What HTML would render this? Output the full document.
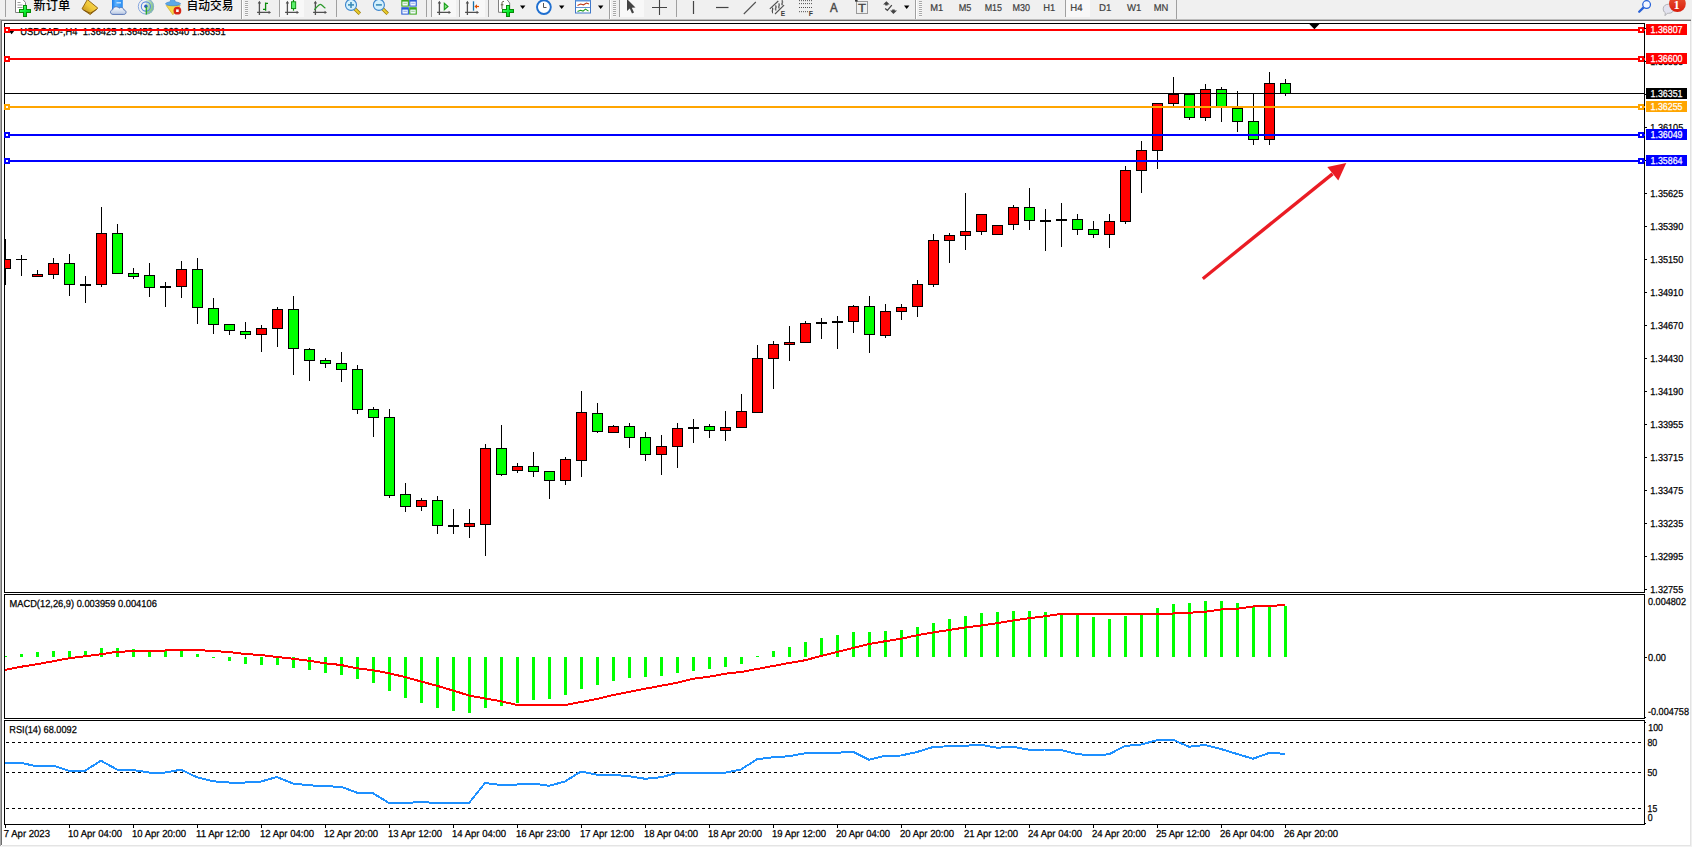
<!DOCTYPE html>
<html lang="zh"><head><meta charset="utf-8"><title>USDCAD-,H4</title>
<style>
html,body{margin:0;padding:0;background:#fff;overflow:hidden}
svg{display:block}
text{font-family:"Liberation Sans","Noto Sans CJK SC",sans-serif}
</style></head><body>
<svg width="1692" height="847" viewBox="0 0 1692 847"><rect x="0" y="0" width="1692" height="847" fill="#ffffff"/>
<rect x="0" y="0" width="1692" height="19" fill="#f0f0f0"/>
<rect x="0" y="19" width="1691" height="1" fill="#bcbcbc"/>
<rect x="0" y="20" width="1691" height="1" fill="#6e6e6e"/>
<rect x="0" y="19" width="1" height="828" fill="#a8a8a8"/>
<rect x="1" y="20" width="1" height="825" fill="#6e6e6e"/>
<rect x="1690" y="21" width="1" height="826" fill="#e3e3e3"/>
<rect x="1691" y="0" width="1" height="847" fill="#f0f0f0"/>
<rect x="2" y="845" width="1689" height="1" fill="#e4e4e4"/>
<rect x="0" y="846" width="1692" height="1" fill="#f2f2f2"/>
<rect x="4" y="23" width="1641" height="1" fill="#000"/>
<rect x="4" y="23" width="1" height="570" fill="#000"/>
<rect x="1644" y="23" width="1" height="570" fill="#000"/>
<rect x="4" y="592" width="1641" height="1" fill="#000"/>
<rect x="4" y="594" width="1641" height="1" fill="#000"/>
<rect x="4" y="594" width="1" height="125" fill="#000"/>
<rect x="1644" y="594" width="1" height="125" fill="#000"/>
<rect x="4" y="718" width="1641" height="1" fill="#000"/>
<rect x="4" y="720" width="1641" height="1" fill="#000"/>
<rect x="4" y="720" width="1" height="105" fill="#000"/>
<rect x="1644" y="720" width="1" height="105" fill="#000"/>
<rect x="4" y="824" width="1641" height="1" fill="#000"/>
<g font-family="'Liberation Sans', sans-serif" style="text-rendering:geometricPrecision" stroke-width="0.25">
<path d="M7.5 29H15.7L11.6 34.3Z" fill="#000"/>
<text x="20.3" y="35" font-size="10.17" fill="#000" stroke="#000" textLength="205.3" lengthAdjust="spacingAndGlyphs" xml:space="preserve">USDCAD-,H4  1.36425 1.36452 1.36340 1.36351</text>
<rect x="1645" y="28" width="2" height="1" fill="#000"/>
<text x="1650.3" y="32" font-size="10.17" fill="#000" stroke="#000" textLength="32.9" lengthAdjust="spacingAndGlyphs" xml:space="preserve">1.36825</text>
<rect x="1645" y="61" width="2" height="1" fill="#000"/>
<text x="1650.3" y="65" font-size="10.17" fill="#000" stroke="#000" textLength="32.9" lengthAdjust="spacingAndGlyphs" xml:space="preserve">1.36585</text>
<rect x="1645" y="94" width="2" height="1" fill="#000"/>
<text x="1650.3" y="98" font-size="10.17" fill="#000" stroke="#000" textLength="32.9" lengthAdjust="spacingAndGlyphs" xml:space="preserve">1.36345</text>
<rect x="1645" y="127" width="2" height="1" fill="#000"/>
<text x="1650.3" y="131" font-size="10.17" fill="#000" stroke="#000" textLength="32.9" lengthAdjust="spacingAndGlyphs" xml:space="preserve">1.36105</text>
<rect x="1645" y="160" width="2" height="1" fill="#000"/>
<text x="1650.3" y="164" font-size="10.17" fill="#000" stroke="#000" textLength="32.9" lengthAdjust="spacingAndGlyphs" xml:space="preserve">1.35865</text>
<rect x="1645" y="193" width="2" height="1" fill="#000"/>
<text x="1650.3" y="197" font-size="10.17" fill="#000" stroke="#000" textLength="32.9" lengthAdjust="spacingAndGlyphs" xml:space="preserve">1.35625</text>
<rect x="1645" y="226" width="2" height="1" fill="#000"/>
<text x="1650.3" y="230" font-size="10.17" fill="#000" stroke="#000" textLength="32.9" lengthAdjust="spacingAndGlyphs" xml:space="preserve">1.35390</text>
<rect x="1645" y="259" width="2" height="1" fill="#000"/>
<text x="1650.3" y="263" font-size="10.17" fill="#000" stroke="#000" textLength="32.9" lengthAdjust="spacingAndGlyphs" xml:space="preserve">1.35150</text>
<rect x="1645" y="292" width="2" height="1" fill="#000"/>
<text x="1650.3" y="296" font-size="10.17" fill="#000" stroke="#000" textLength="32.9" lengthAdjust="spacingAndGlyphs" xml:space="preserve">1.34910</text>
<rect x="1645" y="325" width="2" height="1" fill="#000"/>
<text x="1650.3" y="329" font-size="10.17" fill="#000" stroke="#000" textLength="32.9" lengthAdjust="spacingAndGlyphs" xml:space="preserve">1.34670</text>
<rect x="1645" y="358" width="2" height="1" fill="#000"/>
<text x="1650.3" y="362" font-size="10.17" fill="#000" stroke="#000" textLength="32.9" lengthAdjust="spacingAndGlyphs" xml:space="preserve">1.34430</text>
<rect x="1645" y="391" width="2" height="1" fill="#000"/>
<text x="1650.3" y="395" font-size="10.17" fill="#000" stroke="#000" textLength="32.9" lengthAdjust="spacingAndGlyphs" xml:space="preserve">1.34190</text>
<rect x="1645" y="424" width="2" height="1" fill="#000"/>
<text x="1650.3" y="428" font-size="10.17" fill="#000" stroke="#000" textLength="32.9" lengthAdjust="spacingAndGlyphs" xml:space="preserve">1.33955</text>
<rect x="1645" y="457" width="2" height="1" fill="#000"/>
<text x="1650.3" y="461" font-size="10.17" fill="#000" stroke="#000" textLength="32.9" lengthAdjust="spacingAndGlyphs" xml:space="preserve">1.33715</text>
<rect x="1645" y="490" width="2" height="1" fill="#000"/>
<text x="1650.3" y="494" font-size="10.17" fill="#000" stroke="#000" textLength="32.9" lengthAdjust="spacingAndGlyphs" xml:space="preserve">1.33475</text>
<rect x="1645" y="523" width="2" height="1" fill="#000"/>
<text x="1650.3" y="527" font-size="10.17" fill="#000" stroke="#000" textLength="32.9" lengthAdjust="spacingAndGlyphs" xml:space="preserve">1.33235</text>
<rect x="1645" y="556" width="2" height="1" fill="#000"/>
<text x="1650.3" y="560" font-size="10.17" fill="#000" stroke="#000" textLength="32.9" lengthAdjust="spacingAndGlyphs" xml:space="preserve">1.32995</text>
<rect x="1645" y="589" width="2" height="1" fill="#000"/>
<text x="1650.3" y="593" font-size="10.17" fill="#000" stroke="#000" textLength="32.9" lengthAdjust="spacingAndGlyphs" xml:space="preserve">1.32755</text>
<g shape-rendering="crispEdges">
<rect x="5" y="239" width="1" height="46" fill="#000"/>
<rect x="5" y="259" width="6" height="10" fill="#000"/>
<rect x="5" y="260" width="5" height="8" fill="#ff0000"/>
<rect x="21" y="255" width="1" height="21" fill="#000"/>
<rect x="16" y="259" width="11" height="1" fill="#000"/>
<rect x="37" y="270" width="1" height="7" fill="#000"/>
<rect x="32" y="274" width="11" height="3" fill="#000"/>
<rect x="33" y="275" width="9" height="1" fill="#ff0000"/>
<rect x="53" y="258" width="1" height="21" fill="#000"/>
<rect x="48" y="263" width="11" height="12" fill="#000"/>
<rect x="49" y="264" width="9" height="10" fill="#ff0000"/>
<rect x="69" y="254" width="1" height="42" fill="#000"/>
<rect x="64" y="263" width="11" height="22" fill="#000"/>
<rect x="65" y="264" width="9" height="20" fill="#00ff00"/>
<rect x="85" y="276" width="1" height="27" fill="#000"/>
<rect x="80" y="284" width="11" height="2" fill="#000"/>
<rect x="101" y="207" width="1" height="80" fill="#000"/>
<rect x="96" y="233" width="11" height="52" fill="#000"/>
<rect x="97" y="234" width="9" height="50" fill="#ff0000"/>
<rect x="117" y="224" width="1" height="50" fill="#000"/>
<rect x="112" y="233" width="11" height="41" fill="#000"/>
<rect x="113" y="234" width="9" height="39" fill="#00ff00"/>
<rect x="133" y="268" width="1" height="11" fill="#000"/>
<rect x="128" y="273" width="11" height="4" fill="#000"/>
<rect x="129" y="274" width="9" height="2" fill="#00ff00"/>
<rect x="149" y="263" width="1" height="34" fill="#000"/>
<rect x="144" y="275" width="11" height="13" fill="#000"/>
<rect x="145" y="276" width="9" height="11" fill="#00ff00"/>
<rect x="165" y="282" width="1" height="25" fill="#000"/>
<rect x="160" y="286" width="11" height="2" fill="#000"/>
<rect x="181" y="261" width="1" height="37" fill="#000"/>
<rect x="176" y="269" width="11" height="18" fill="#000"/>
<rect x="177" y="270" width="9" height="16" fill="#ff0000"/>
<rect x="197" y="258" width="1" height="66" fill="#000"/>
<rect x="192" y="269" width="11" height="39" fill="#000"/>
<rect x="193" y="270" width="9" height="37" fill="#00ff00"/>
<rect x="213" y="298" width="1" height="36" fill="#000"/>
<rect x="208" y="308" width="11" height="17" fill="#000"/>
<rect x="209" y="309" width="9" height="15" fill="#00ff00"/>
<rect x="229" y="324" width="1" height="11" fill="#000"/>
<rect x="224" y="324" width="11" height="7" fill="#000"/>
<rect x="225" y="325" width="9" height="5" fill="#00ff00"/>
<rect x="245" y="322" width="1" height="17" fill="#000"/>
<rect x="240" y="331" width="11" height="4" fill="#000"/>
<rect x="241" y="332" width="9" height="2" fill="#00ff00"/>
<rect x="261" y="325" width="1" height="27" fill="#000"/>
<rect x="256" y="328" width="11" height="7" fill="#000"/>
<rect x="257" y="329" width="9" height="5" fill="#ff0000"/>
<rect x="277" y="307" width="1" height="40" fill="#000"/>
<rect x="272" y="309" width="11" height="20" fill="#000"/>
<rect x="273" y="310" width="9" height="18" fill="#ff0000"/>
<rect x="293" y="296" width="1" height="79" fill="#000"/>
<rect x="288" y="309" width="11" height="40" fill="#000"/>
<rect x="289" y="310" width="9" height="38" fill="#00ff00"/>
<rect x="309" y="348" width="1" height="33" fill="#000"/>
<rect x="304" y="349" width="11" height="12" fill="#000"/>
<rect x="305" y="350" width="9" height="10" fill="#00ff00"/>
<rect x="325" y="358" width="1" height="10" fill="#000"/>
<rect x="320" y="360" width="11" height="4" fill="#000"/>
<rect x="321" y="361" width="9" height="2" fill="#00ff00"/>
<rect x="341" y="352" width="1" height="30" fill="#000"/>
<rect x="336" y="363" width="11" height="7" fill="#000"/>
<rect x="337" y="364" width="9" height="5" fill="#00ff00"/>
<rect x="357" y="365" width="1" height="49" fill="#000"/>
<rect x="352" y="369" width="11" height="41" fill="#000"/>
<rect x="353" y="370" width="9" height="39" fill="#00ff00"/>
<rect x="373" y="407" width="1" height="30" fill="#000"/>
<rect x="368" y="409" width="11" height="9" fill="#000"/>
<rect x="369" y="410" width="9" height="7" fill="#00ff00"/>
<rect x="389" y="409" width="1" height="89" fill="#000"/>
<rect x="384" y="417" width="11" height="79" fill="#000"/>
<rect x="385" y="418" width="9" height="77" fill="#00ff00"/>
<rect x="405" y="483" width="1" height="29" fill="#000"/>
<rect x="400" y="494" width="11" height="13" fill="#000"/>
<rect x="401" y="495" width="9" height="11" fill="#00ff00"/>
<rect x="421" y="498" width="1" height="13" fill="#000"/>
<rect x="416" y="500" width="11" height="7" fill="#000"/>
<rect x="417" y="501" width="9" height="5" fill="#ff0000"/>
<rect x="437" y="496" width="1" height="38" fill="#000"/>
<rect x="432" y="500" width="11" height="26" fill="#000"/>
<rect x="433" y="501" width="9" height="24" fill="#00ff00"/>
<rect x="453" y="509" width="1" height="25" fill="#000"/>
<rect x="448" y="525" width="11" height="2" fill="#000"/>
<rect x="469" y="509" width="1" height="29" fill="#000"/>
<rect x="464" y="523" width="11" height="4" fill="#000"/>
<rect x="465" y="524" width="9" height="2" fill="#ff0000"/>
<rect x="485" y="444" width="1" height="112" fill="#000"/>
<rect x="480" y="448" width="11" height="77" fill="#000"/>
<rect x="481" y="449" width="9" height="75" fill="#ff0000"/>
<rect x="501" y="425" width="1" height="51" fill="#000"/>
<rect x="496" y="448" width="11" height="27" fill="#000"/>
<rect x="497" y="449" width="9" height="25" fill="#00ff00"/>
<rect x="517" y="463" width="1" height="10" fill="#000"/>
<rect x="512" y="466" width="11" height="5" fill="#000"/>
<rect x="513" y="467" width="9" height="3" fill="#ff0000"/>
<rect x="533" y="452" width="1" height="25" fill="#000"/>
<rect x="528" y="466" width="11" height="6" fill="#000"/>
<rect x="529" y="467" width="9" height="4" fill="#00ff00"/>
<rect x="549" y="471" width="1" height="28" fill="#000"/>
<rect x="544" y="471" width="11" height="10" fill="#000"/>
<rect x="545" y="472" width="9" height="8" fill="#00ff00"/>
<rect x="565" y="457" width="1" height="28" fill="#000"/>
<rect x="560" y="459" width="11" height="22" fill="#000"/>
<rect x="561" y="460" width="9" height="20" fill="#ff0000"/>
<rect x="581" y="391" width="1" height="86" fill="#000"/>
<rect x="576" y="412" width="11" height="49" fill="#000"/>
<rect x="577" y="413" width="9" height="47" fill="#ff0000"/>
<rect x="597" y="403" width="1" height="30" fill="#000"/>
<rect x="592" y="413" width="11" height="19" fill="#000"/>
<rect x="593" y="414" width="9" height="17" fill="#00ff00"/>
<rect x="613" y="425" width="1" height="8" fill="#000"/>
<rect x="608" y="426" width="11" height="7" fill="#000"/>
<rect x="609" y="427" width="9" height="5" fill="#ff0000"/>
<rect x="629" y="423" width="1" height="25" fill="#000"/>
<rect x="624" y="426" width="11" height="12" fill="#000"/>
<rect x="625" y="427" width="9" height="10" fill="#00ff00"/>
<rect x="645" y="432" width="1" height="29" fill="#000"/>
<rect x="640" y="437" width="11" height="18" fill="#000"/>
<rect x="641" y="438" width="9" height="16" fill="#00ff00"/>
<rect x="661" y="435" width="1" height="40" fill="#000"/>
<rect x="656" y="446" width="11" height="9" fill="#000"/>
<rect x="657" y="447" width="9" height="7" fill="#ff0000"/>
<rect x="677" y="423" width="1" height="45" fill="#000"/>
<rect x="672" y="428" width="11" height="19" fill="#000"/>
<rect x="673" y="429" width="9" height="17" fill="#ff0000"/>
<rect x="693" y="419" width="1" height="24" fill="#000"/>
<rect x="688" y="427" width="11" height="2" fill="#000"/>
<rect x="709" y="424" width="1" height="14" fill="#000"/>
<rect x="704" y="426" width="11" height="5" fill="#000"/>
<rect x="705" y="427" width="9" height="3" fill="#00ff00"/>
<rect x="725" y="411" width="1" height="30" fill="#000"/>
<rect x="720" y="427" width="11" height="4" fill="#000"/>
<rect x="721" y="428" width="9" height="2" fill="#ff0000"/>
<rect x="741" y="394" width="1" height="34" fill="#000"/>
<rect x="736" y="411" width="11" height="17" fill="#000"/>
<rect x="737" y="412" width="9" height="15" fill="#ff0000"/>
<rect x="757" y="345" width="1" height="68" fill="#000"/>
<rect x="752" y="358" width="11" height="55" fill="#000"/>
<rect x="753" y="359" width="9" height="53" fill="#ff0000"/>
<rect x="773" y="341" width="1" height="48" fill="#000"/>
<rect x="768" y="344" width="11" height="15" fill="#000"/>
<rect x="769" y="345" width="9" height="13" fill="#ff0000"/>
<rect x="789" y="326" width="1" height="35" fill="#000"/>
<rect x="784" y="342" width="11" height="3" fill="#000"/>
<rect x="785" y="343" width="9" height="1" fill="#ff0000"/>
<rect x="805" y="321" width="1" height="22" fill="#000"/>
<rect x="800" y="323" width="11" height="20" fill="#000"/>
<rect x="801" y="324" width="9" height="18" fill="#ff0000"/>
<rect x="821" y="318" width="1" height="21" fill="#000"/>
<rect x="816" y="322" width="11" height="2" fill="#000"/>
<rect x="837" y="316" width="1" height="33" fill="#000"/>
<rect x="832" y="321" width="11" height="2" fill="#000"/>
<rect x="853" y="305" width="1" height="28" fill="#000"/>
<rect x="848" y="306" width="11" height="16" fill="#000"/>
<rect x="849" y="307" width="9" height="14" fill="#ff0000"/>
<rect x="869" y="296" width="1" height="57" fill="#000"/>
<rect x="864" y="306" width="11" height="29" fill="#000"/>
<rect x="865" y="307" width="9" height="27" fill="#00ff00"/>
<rect x="885" y="304" width="1" height="34" fill="#000"/>
<rect x="880" y="311" width="11" height="25" fill="#000"/>
<rect x="881" y="312" width="9" height="23" fill="#ff0000"/>
<rect x="901" y="304" width="1" height="16" fill="#000"/>
<rect x="896" y="307" width="11" height="5" fill="#000"/>
<rect x="897" y="308" width="9" height="3" fill="#ff0000"/>
<rect x="917" y="280" width="1" height="37" fill="#000"/>
<rect x="912" y="284" width="11" height="23" fill="#000"/>
<rect x="913" y="285" width="9" height="21" fill="#ff0000"/>
<rect x="933" y="234" width="1" height="53" fill="#000"/>
<rect x="928" y="240" width="11" height="45" fill="#000"/>
<rect x="929" y="241" width="9" height="43" fill="#ff0000"/>
<rect x="949" y="233" width="1" height="30" fill="#000"/>
<rect x="944" y="235" width="11" height="6" fill="#000"/>
<rect x="945" y="236" width="9" height="4" fill="#ff0000"/>
<rect x="965" y="193" width="1" height="57" fill="#000"/>
<rect x="960" y="231" width="11" height="5" fill="#000"/>
<rect x="961" y="232" width="9" height="3" fill="#ff0000"/>
<rect x="981" y="214" width="1" height="21" fill="#000"/>
<rect x="976" y="214" width="11" height="18" fill="#000"/>
<rect x="977" y="215" width="9" height="16" fill="#ff0000"/>
<rect x="997" y="225" width="1" height="10" fill="#000"/>
<rect x="992" y="225" width="11" height="10" fill="#000"/>
<rect x="993" y="226" width="9" height="8" fill="#ff0000"/>
<rect x="1013" y="205" width="1" height="25" fill="#000"/>
<rect x="1008" y="207" width="11" height="18" fill="#000"/>
<rect x="1009" y="208" width="9" height="16" fill="#ff0000"/>
<rect x="1029" y="188" width="1" height="42" fill="#000"/>
<rect x="1024" y="207" width="11" height="14" fill="#000"/>
<rect x="1025" y="208" width="9" height="12" fill="#00ff00"/>
<rect x="1045" y="209" width="1" height="42" fill="#000"/>
<rect x="1040" y="220" width="11" height="2" fill="#000"/>
<rect x="1061" y="203" width="1" height="44" fill="#000"/>
<rect x="1056" y="219" width="11" height="2" fill="#000"/>
<rect x="1077" y="214" width="1" height="21" fill="#000"/>
<rect x="1072" y="219" width="11" height="11" fill="#000"/>
<rect x="1073" y="220" width="9" height="9" fill="#00ff00"/>
<rect x="1093" y="221" width="1" height="17" fill="#000"/>
<rect x="1088" y="229" width="11" height="6" fill="#000"/>
<rect x="1089" y="230" width="9" height="4" fill="#00ff00"/>
<rect x="1109" y="214" width="1" height="34" fill="#000"/>
<rect x="1104" y="221" width="11" height="14" fill="#000"/>
<rect x="1105" y="222" width="9" height="12" fill="#ff0000"/>
<rect x="1125" y="166" width="1" height="58" fill="#000"/>
<rect x="1120" y="170" width="11" height="52" fill="#000"/>
<rect x="1121" y="171" width="9" height="50" fill="#ff0000"/>
<rect x="1141" y="141" width="1" height="52" fill="#000"/>
<rect x="1136" y="150" width="11" height="21" fill="#000"/>
<rect x="1137" y="151" width="9" height="19" fill="#ff0000"/>
<rect x="1157" y="103" width="1" height="66" fill="#000"/>
<rect x="1152" y="103" width="11" height="48" fill="#000"/>
<rect x="1153" y="104" width="9" height="46" fill="#ff0000"/>
<rect x="1173" y="77" width="1" height="29" fill="#000"/>
<rect x="1168" y="94" width="11" height="10" fill="#000"/>
<rect x="1169" y="95" width="9" height="8" fill="#ff0000"/>
<rect x="1189" y="94" width="1" height="26" fill="#000"/>
<rect x="1184" y="94" width="11" height="24" fill="#000"/>
<rect x="1185" y="95" width="9" height="22" fill="#00ff00"/>
<rect x="1205" y="84" width="1" height="37" fill="#000"/>
<rect x="1200" y="89" width="11" height="29" fill="#000"/>
<rect x="1201" y="90" width="9" height="27" fill="#ff0000"/>
<rect x="1221" y="87" width="1" height="35" fill="#000"/>
<rect x="1216" y="89" width="11" height="18" fill="#000"/>
<rect x="1217" y="90" width="9" height="16" fill="#00ff00"/>
<rect x="1237" y="91" width="1" height="41" fill="#000"/>
<rect x="1232" y="108" width="11" height="14" fill="#000"/>
<rect x="1233" y="109" width="9" height="12" fill="#00ff00"/>
<rect x="1253" y="93" width="1" height="52" fill="#000"/>
<rect x="1248" y="121" width="11" height="19" fill="#000"/>
<rect x="1249" y="122" width="9" height="17" fill="#00ff00"/>
<rect x="1269" y="72" width="1" height="73" fill="#000"/>
<rect x="1264" y="83" width="11" height="57" fill="#000"/>
<rect x="1265" y="84" width="9" height="55" fill="#ff0000"/>
<rect x="1285" y="79" width="1" height="17" fill="#000"/>
<rect x="1280" y="83" width="11" height="11" fill="#000"/>
<rect x="1281" y="84" width="9" height="9" fill="#00ff00"/>
</g>
<rect x="4" y="23" width="1" height="570" fill="#000"/>
<rect x="5" y="93" width="1640" height="1" fill="#000"/>
<rect x="1646" y="88" width="41" height="11" fill="#000"/>
<text x="1650.5" y="97" font-size="10.17" fill="#fff" stroke="#fff" textLength="32" lengthAdjust="spacingAndGlyphs" xml:space="preserve">1.36351</text>
<rect x="5" y="29" width="1640" height="2" fill="#ff0000"/>
<rect x="4" y="27" width="6" height="6" fill="#ff0000"/>
<rect x="6" y="29" width="2" height="2" fill="#fff"/>
<rect x="1638" y="27" width="6" height="6" fill="#ff0000"/>
<rect x="1640" y="29" width="2" height="2" fill="#fff"/>
<rect x="1646" y="24" width="41" height="11" fill="#ff0000"/>
<text x="1650.5" y="33" font-size="10.17" fill="#fff" stroke="#fff" textLength="32" lengthAdjust="spacingAndGlyphs" xml:space="preserve">1.36807</text>
<rect x="5" y="58" width="1640" height="2" fill="#ff0000"/>
<rect x="4" y="56" width="6" height="6" fill="#ff0000"/>
<rect x="6" y="58" width="2" height="2" fill="#fff"/>
<rect x="1638" y="56" width="6" height="6" fill="#ff0000"/>
<rect x="1640" y="58" width="2" height="2" fill="#fff"/>
<rect x="1646" y="53" width="41" height="11" fill="#ff0000"/>
<text x="1650.5" y="62" font-size="10.17" fill="#fff" stroke="#fff" textLength="32" lengthAdjust="spacingAndGlyphs" xml:space="preserve">1.36600</text>
<rect x="5" y="106" width="1640" height="2" fill="#ffa500"/>
<rect x="4" y="104" width="6" height="6" fill="#ffa500"/>
<rect x="6" y="106" width="2" height="2" fill="#fff"/>
<rect x="1638" y="104" width="6" height="6" fill="#ffa500"/>
<rect x="1640" y="106" width="2" height="2" fill="#fff"/>
<rect x="1646" y="101" width="41" height="11" fill="#ffa500"/>
<text x="1650.5" y="110" font-size="10.17" fill="#fff" stroke="#fff" textLength="32" lengthAdjust="spacingAndGlyphs" xml:space="preserve">1.36255</text>
<rect x="5" y="134" width="1640" height="2" fill="#0000ff"/>
<rect x="4" y="132" width="6" height="6" fill="#0000ff"/>
<rect x="6" y="134" width="2" height="2" fill="#fff"/>
<rect x="1638" y="132" width="6" height="6" fill="#0000ff"/>
<rect x="1640" y="134" width="2" height="2" fill="#fff"/>
<rect x="1646" y="129" width="41" height="11" fill="#0000ff"/>
<text x="1650.5" y="138" font-size="10.17" fill="#fff" stroke="#fff" textLength="32" lengthAdjust="spacingAndGlyphs" xml:space="preserve">1.36049</text>
<rect x="5" y="160" width="1640" height="2" fill="#0000ff"/>
<rect x="4" y="158" width="6" height="6" fill="#0000ff"/>
<rect x="6" y="160" width="2" height="2" fill="#fff"/>
<rect x="1638" y="158" width="6" height="6" fill="#0000ff"/>
<rect x="1640" y="160" width="2" height="2" fill="#fff"/>
<rect x="1646" y="155" width="41" height="11" fill="#0000ff"/>
<text x="1650.5" y="164" font-size="10.17" fill="#fff" stroke="#fff" textLength="32" lengthAdjust="spacingAndGlyphs" xml:space="preserve">1.35864</text>
<path d="M1309.3 24H1319.5L1314.4 29.2Z" fill="#000"/>
<g fill="#ea1c24" stroke="none">
<path d="M1201.8 277.4 L1331.5 172.5 L1333.6 175.2 L1203.8 279.9 Z"/>
<path d="M1346.3 162.9 L1327.3 167 L1338.3 180.6 Z"/>
</g>
<g shape-rendering="crispEdges">
<rect x="5" y="656" width="2" height="1" fill="#00ff00"/>
<rect x="20" y="654" width="3" height="3" fill="#00ff00"/>
<rect x="36" y="652" width="3" height="5" fill="#00ff00"/>
<rect x="52" y="651" width="3" height="6" fill="#00ff00"/>
<rect x="68" y="651" width="3" height="6" fill="#00ff00"/>
<rect x="84" y="651" width="3" height="6" fill="#00ff00"/>
<rect x="100" y="648" width="3" height="9" fill="#00ff00"/>
<rect x="116" y="648" width="3" height="9" fill="#00ff00"/>
<rect x="132" y="649" width="3" height="8" fill="#00ff00"/>
<rect x="148" y="650" width="3" height="7" fill="#00ff00"/>
<rect x="164" y="650" width="3" height="7" fill="#00ff00"/>
<rect x="180" y="650" width="3" height="7" fill="#00ff00"/>
<rect x="196" y="654" width="3" height="3" fill="#00ff00"/>
<rect x="212" y="657" width="3" height="1" fill="#00ff00"/>
<rect x="228" y="657" width="3" height="4" fill="#00ff00"/>
<rect x="244" y="657" width="3" height="7" fill="#00ff00"/>
<rect x="260" y="657" width="3" height="8" fill="#00ff00"/>
<rect x="276" y="657" width="3" height="8" fill="#00ff00"/>
<rect x="292" y="657" width="3" height="11" fill="#00ff00"/>
<rect x="308" y="657" width="3" height="13" fill="#00ff00"/>
<rect x="324" y="657" width="3" height="16" fill="#00ff00"/>
<rect x="340" y="657" width="3" height="18" fill="#00ff00"/>
<rect x="356" y="657" width="3" height="22" fill="#00ff00"/>
<rect x="372" y="657" width="3" height="26" fill="#00ff00"/>
<rect x="388" y="657" width="3" height="34" fill="#00ff00"/>
<rect x="404" y="657" width="3" height="41" fill="#00ff00"/>
<rect x="420" y="657" width="3" height="46" fill="#00ff00"/>
<rect x="436" y="657" width="3" height="51" fill="#00ff00"/>
<rect x="452" y="657" width="3" height="54" fill="#00ff00"/>
<rect x="468" y="657" width="3" height="56" fill="#00ff00"/>
<rect x="484" y="657" width="3" height="51" fill="#00ff00"/>
<rect x="500" y="657" width="3" height="49" fill="#00ff00"/>
<rect x="516" y="657" width="3" height="46" fill="#00ff00"/>
<rect x="532" y="657" width="3" height="43" fill="#00ff00"/>
<rect x="548" y="657" width="3" height="42" fill="#00ff00"/>
<rect x="564" y="657" width="3" height="38" fill="#00ff00"/>
<rect x="580" y="657" width="3" height="32" fill="#00ff00"/>
<rect x="596" y="657" width="3" height="28" fill="#00ff00"/>
<rect x="612" y="657" width="3" height="24" fill="#00ff00"/>
<rect x="628" y="657" width="3" height="21" fill="#00ff00"/>
<rect x="644" y="657" width="3" height="20" fill="#00ff00"/>
<rect x="660" y="657" width="3" height="19" fill="#00ff00"/>
<rect x="676" y="657" width="3" height="16" fill="#00ff00"/>
<rect x="692" y="657" width="3" height="14" fill="#00ff00"/>
<rect x="708" y="657" width="3" height="12" fill="#00ff00"/>
<rect x="724" y="657" width="3" height="10" fill="#00ff00"/>
<rect x="740" y="657" width="3" height="7" fill="#00ff00"/>
<rect x="756" y="656" width="3" height="1" fill="#00ff00"/>
<rect x="772" y="651" width="3" height="6" fill="#00ff00"/>
<rect x="788" y="647" width="3" height="10" fill="#00ff00"/>
<rect x="804" y="642" width="3" height="15" fill="#00ff00"/>
<rect x="820" y="638" width="3" height="19" fill="#00ff00"/>
<rect x="836" y="635" width="3" height="22" fill="#00ff00"/>
<rect x="852" y="632" width="3" height="25" fill="#00ff00"/>
<rect x="868" y="632" width="3" height="25" fill="#00ff00"/>
<rect x="884" y="631" width="3" height="26" fill="#00ff00"/>
<rect x="900" y="630" width="3" height="27" fill="#00ff00"/>
<rect x="916" y="627" width="3" height="30" fill="#00ff00"/>
<rect x="932" y="623" width="3" height="34" fill="#00ff00"/>
<rect x="948" y="619" width="3" height="38" fill="#00ff00"/>
<rect x="964" y="616" width="3" height="41" fill="#00ff00"/>
<rect x="980" y="613" width="3" height="44" fill="#00ff00"/>
<rect x="996" y="612" width="3" height="45" fill="#00ff00"/>
<rect x="1012" y="611" width="3" height="46" fill="#00ff00"/>
<rect x="1028" y="611" width="3" height="46" fill="#00ff00"/>
<rect x="1044" y="612" width="3" height="45" fill="#00ff00"/>
<rect x="1060" y="613" width="3" height="44" fill="#00ff00"/>
<rect x="1076" y="615" width="3" height="42" fill="#00ff00"/>
<rect x="1092" y="617" width="3" height="40" fill="#00ff00"/>
<rect x="1108" y="619" width="3" height="38" fill="#00ff00"/>
<rect x="1124" y="616" width="3" height="41" fill="#00ff00"/>
<rect x="1140" y="614" width="3" height="43" fill="#00ff00"/>
<rect x="1156" y="608" width="3" height="49" fill="#00ff00"/>
<rect x="1172" y="604" width="3" height="53" fill="#00ff00"/>
<rect x="1188" y="603" width="3" height="54" fill="#00ff00"/>
<rect x="1204" y="601" width="3" height="56" fill="#00ff00"/>
<rect x="1220" y="601" width="3" height="56" fill="#00ff00"/>
<rect x="1236" y="603" width="3" height="54" fill="#00ff00"/>
<rect x="1252" y="607" width="3" height="50" fill="#00ff00"/>
<rect x="1268" y="606" width="3" height="51" fill="#00ff00"/>
<rect x="1284" y="606" width="3" height="51" fill="#00ff00"/>
</g>
<polyline points="5,670 21,666.75 37,664.25 53,661.25 69,658.25 85,656.25 101,654.25 117,651.75 133,651.25 149,651 165,650.5 181,650 197,650 213,651 229,652 245,654 261,655 277,657 293,658.75 309,660.75 325,663.25 341,665 357,668.25 373,670.25 389,673.25 405,677 421,681.5 437,685.75 453,690.5 469,695.5 485,698.5 501,701.25 517,705 533,705 549,705 565,705 581,702 597,699 613,695 629,692 645,688.75 661,685.75 677,682.75 693,678.75 709,676.75 725,673.75 741,672 757,669 773,666 789,663 805,660.25 821,656 837,652 853,648 869,644 885,641.25 901,638.75 917,635.25 933,632.5 949,630 965,627.5 981,625.5 997,623.25 1013,620.5 1029,618.25 1045,616.25 1061,614 1077,614 1093,614 1109,614 1125,614 1141,614 1157,614 1173,613.5 1189,612.75 1205,611.75 1221,609.5 1237,608.75 1253,606.5 1269,605.75 1285,605.25" fill="none" stroke="#ff0000" stroke-width="2" stroke-linejoin="round" shape-rendering="crispEdges"/>
<text x="9.5" y="607" font-size="10.17" fill="#000" stroke="#000" textLength="147.3" lengthAdjust="spacingAndGlyphs" xml:space="preserve">MACD(12,26,9) 0.003959 0.004106</text>
<rect x="1645" y="657" width="2" height="1" fill="#000"/>
<text x="1648" y="605" font-size="10.17" fill="#000" stroke="#000" textLength="38" lengthAdjust="spacingAndGlyphs" xml:space="preserve">0.004802</text>
<text x="1648" y="661" font-size="10.17" fill="#000" stroke="#000" textLength="18" lengthAdjust="spacingAndGlyphs" xml:space="preserve">0.00</text>
<text x="1648" y="715" font-size="10.17" fill="#000" stroke="#000" textLength="41" lengthAdjust="spacingAndGlyphs" xml:space="preserve">-0.004758</text>
<path d="M6 742.5H1644" stroke="#000" stroke-width="1" stroke-dasharray="3 3" shape-rendering="crispEdges"/>
<path d="M6 772.5H1644" stroke="#000" stroke-width="1" stroke-dasharray="3 3" shape-rendering="crispEdges"/>
<path d="M6 808.5H1644" stroke="#000" stroke-width="1" stroke-dasharray="3 3" shape-rendering="crispEdges"/>
<polyline points="5,762.75 21,762.75 37,766.5 53,765.5 69,770.75 85,770.75 101,760.75 117,769.5 133,770 149,772.5 165,772.5 181,769.75 197,777.25 213,781.25 229,782.5 245,782.5 261,781.5 277,777 293,783.5 309,785.25 325,786.25 341,786.75 357,792.75 373,793.25 389,803 405,803 421,802 437,803 453,803 469,803 485,783 501,785 517,784.5 533,783.5 549,785.75 565,781.5 581,771.5 597,774.75 613,774.75 629,776.25 645,778.75 661,777.25 677,773 693,772.75 709,772.75 725,772.75 741,769.5 757,759.25 773,757.25 789,756.25 805,753.25 821,752.75 837,752.75 853,751.75 869,759.75 885,755.75 901,755.5 917,752 933,747 949,746.25 965,745.75 981,744.75 997,747.75 1013,746.75 1029,749.75 1045,749.5 1061,750 1077,754 1093,755.5 1109,754.25 1125,746 1141,744.5 1157,740.25 1173,739.75 1189,746.75 1205,745 1221,749 1237,754 1253,758.75 1269,753 1285,753.75" fill="none" stroke="#1e90ff" stroke-width="2" stroke-linejoin="round" shape-rendering="crispEdges"/>
<text x="9.3" y="733" font-size="10.17" fill="#000" stroke="#000" textLength="67.5" lengthAdjust="spacingAndGlyphs" xml:space="preserve">RSI(14) 68.0092</text>
<text x="1648.3" y="731" font-size="10.17" fill="#000" stroke="#000" textLength="14.6" lengthAdjust="spacingAndGlyphs" xml:space="preserve">100</text>
<text x="1647.4" y="746" font-size="10.17" fill="#000" stroke="#000" textLength="9.8" lengthAdjust="spacingAndGlyphs" xml:space="preserve">80</text>
<text x="1647.4" y="776" font-size="10.17" fill="#000" stroke="#000" textLength="9.8" lengthAdjust="spacingAndGlyphs" xml:space="preserve">50</text>
<text x="1647.6" y="812" font-size="10.17" fill="#000" stroke="#000" textLength="9.6" lengthAdjust="spacingAndGlyphs" xml:space="preserve">15</text>
<text x="1647.8" y="821" font-size="10.17" fill="#000" stroke="#000" textLength="4.9" lengthAdjust="spacingAndGlyphs" xml:space="preserve">0</text>
<rect x="1645" y="717" width="1" height="1" fill="#000"/>
<rect x="1645" y="722" width="1" height="1" fill="#000"/>
<rect x="1645" y="823" width="1" height="1" fill="#000"/>
<rect x="5" y="825" width="1" height="3" fill="#000"/>
<text x="3.8" y="837" font-size="10.17" fill="#000" stroke="#000" textLength="46.2" lengthAdjust="spacingAndGlyphs" xml:space="preserve">7 Apr 2023</text>
<rect x="69" y="825" width="1" height="3" fill="#000"/>
<text x="68" y="837" font-size="10.17" fill="#000" stroke="#000" textLength="54" lengthAdjust="spacingAndGlyphs" xml:space="preserve">10 Apr 04:00</text>
<rect x="133" y="825" width="1" height="3" fill="#000"/>
<text x="132" y="837" font-size="10.17" fill="#000" stroke="#000" textLength="54" lengthAdjust="spacingAndGlyphs" xml:space="preserve">10 Apr 20:00</text>
<rect x="197" y="825" width="1" height="3" fill="#000"/>
<text x="196" y="837" font-size="10.17" fill="#000" stroke="#000" textLength="54" lengthAdjust="spacingAndGlyphs" xml:space="preserve">11 Apr 12:00</text>
<rect x="261" y="825" width="1" height="3" fill="#000"/>
<text x="260" y="837" font-size="10.17" fill="#000" stroke="#000" textLength="54" lengthAdjust="spacingAndGlyphs" xml:space="preserve">12 Apr 04:00</text>
<rect x="325" y="825" width="1" height="3" fill="#000"/>
<text x="324" y="837" font-size="10.17" fill="#000" stroke="#000" textLength="54" lengthAdjust="spacingAndGlyphs" xml:space="preserve">12 Apr 20:00</text>
<rect x="389" y="825" width="1" height="3" fill="#000"/>
<text x="388" y="837" font-size="10.17" fill="#000" stroke="#000" textLength="54" lengthAdjust="spacingAndGlyphs" xml:space="preserve">13 Apr 12:00</text>
<rect x="453" y="825" width="1" height="3" fill="#000"/>
<text x="452" y="837" font-size="10.17" fill="#000" stroke="#000" textLength="54" lengthAdjust="spacingAndGlyphs" xml:space="preserve">14 Apr 04:00</text>
<rect x="517" y="825" width="1" height="3" fill="#000"/>
<text x="516" y="837" font-size="10.17" fill="#000" stroke="#000" textLength="54" lengthAdjust="spacingAndGlyphs" xml:space="preserve">16 Apr 23:00</text>
<rect x="581" y="825" width="1" height="3" fill="#000"/>
<text x="580" y="837" font-size="10.17" fill="#000" stroke="#000" textLength="54" lengthAdjust="spacingAndGlyphs" xml:space="preserve">17 Apr 12:00</text>
<rect x="645" y="825" width="1" height="3" fill="#000"/>
<text x="644" y="837" font-size="10.17" fill="#000" stroke="#000" textLength="54" lengthAdjust="spacingAndGlyphs" xml:space="preserve">18 Apr 04:00</text>
<rect x="709" y="825" width="1" height="3" fill="#000"/>
<text x="708" y="837" font-size="10.17" fill="#000" stroke="#000" textLength="54" lengthAdjust="spacingAndGlyphs" xml:space="preserve">18 Apr 20:00</text>
<rect x="773" y="825" width="1" height="3" fill="#000"/>
<text x="772" y="837" font-size="10.17" fill="#000" stroke="#000" textLength="54" lengthAdjust="spacingAndGlyphs" xml:space="preserve">19 Apr 12:00</text>
<rect x="837" y="825" width="1" height="3" fill="#000"/>
<text x="836" y="837" font-size="10.17" fill="#000" stroke="#000" textLength="54" lengthAdjust="spacingAndGlyphs" xml:space="preserve">20 Apr 04:00</text>
<rect x="901" y="825" width="1" height="3" fill="#000"/>
<text x="900" y="837" font-size="10.17" fill="#000" stroke="#000" textLength="54" lengthAdjust="spacingAndGlyphs" xml:space="preserve">20 Apr 20:00</text>
<rect x="965" y="825" width="1" height="3" fill="#000"/>
<text x="964" y="837" font-size="10.17" fill="#000" stroke="#000" textLength="54" lengthAdjust="spacingAndGlyphs" xml:space="preserve">21 Apr 12:00</text>
<rect x="1029" y="825" width="1" height="3" fill="#000"/>
<text x="1028" y="837" font-size="10.17" fill="#000" stroke="#000" textLength="54" lengthAdjust="spacingAndGlyphs" xml:space="preserve">24 Apr 04:00</text>
<rect x="1093" y="825" width="1" height="3" fill="#000"/>
<text x="1092" y="837" font-size="10.17" fill="#000" stroke="#000" textLength="54" lengthAdjust="spacingAndGlyphs" xml:space="preserve">24 Apr 20:00</text>
<rect x="1157" y="825" width="1" height="3" fill="#000"/>
<text x="1156" y="837" font-size="10.17" fill="#000" stroke="#000" textLength="54" lengthAdjust="spacingAndGlyphs" xml:space="preserve">25 Apr 12:00</text>
<rect x="1221" y="825" width="1" height="3" fill="#000"/>
<text x="1220" y="837" font-size="10.17" fill="#000" stroke="#000" textLength="54" lengthAdjust="spacingAndGlyphs" xml:space="preserve">26 Apr 04:00</text>
<rect x="1285" y="825" width="1" height="3" fill="#000"/>
<text x="1284" y="837" font-size="10.17" fill="#000" stroke="#000" textLength="54" lengthAdjust="spacingAndGlyphs" xml:space="preserve">26 Apr 20:00</text>
</g>
<g id="toolbar">
<clipPath id="tbclip"><rect x="0" y="0" width="1692" height="19"/></clipPath>
<g clip-path="url(#tbclip)">
<rect x="5" y="0" width="1" height="17" fill="#a0a0a0" shape-rendering="crispEdges"/>
<path d="M15.5 -1V12.5H25.5V2.500L22.500 -1Z" fill="#fff" stroke="#808080" stroke-width="1"/>
<path d="M17.5 2.5h3 M17.5 5h5 M17.5 7.5h5" stroke="#999" stroke-width="1"/>
<defs><linearGradient id="plusg" x1="0" y1="0" x2="1" y2="1"><stop offset="0" stop-color="#78ff88"/><stop offset="0.5" stop-color="#08f030"/><stop offset="1" stop-color="#00b818"/></linearGradient></defs>
<path d="M23 5h4v4h4v4h-4v4h-4v-4h-4v-4h4z" fill="#078c07" shape-rendering="crispEdges"/>
<path d="M24 6h2v4h4v2h-4v4h-2v-4h-4v-2h4z" fill="url(#plusg)" shape-rendering="crispEdges"/>
<text x="33.6" y="9.6" font-size="12.2" fill="#000" font-weight="500">新订单</text>
<defs><linearGradient id="gold" x1="0" y1="1" x2="1" y2="0"><stop offset="0" stop-color="#b07c10"/><stop offset="0.5" stop-color="#f0c838"/><stop offset="1" stop-color="#f8dc60"/></linearGradient><linearGradient id="cld" x1="0" y1="0" x2="0" y2="1"><stop offset="0" stop-color="#ffffff"/><stop offset="1" stop-color="#b8c8e4"/></linearGradient><linearGradient id="srv" x1="0" y1="0" x2="1" y2="0"><stop offset="0" stop-color="#1a7ae8"/><stop offset="0.35" stop-color="#58b0ff"/><stop offset="1" stop-color="#2a8cf0"/></linearGradient><radialGradient id="grn" cx="0" cy="0.1" r="1"><stop offset="0" stop-color="#d8ecd8"/><stop offset="1" stop-color="#58b858"/></radialGradient></defs>
<path d="M82 8.8L87.4 -0.5L97.8 8.1L90.2 14.6Z" fill="url(#gold)" stroke="#8a5c0c" stroke-width="0.9" stroke-linejoin="round"/>
<path d="M83.5 10.2L90.2 13.2L96.8 9.4" fill="none" stroke="#7a4e08" stroke-width="0.9"/>
<path d="M112 -1H122.8V9H112Z" fill="url(#srv)"/>
<path d="M116.5 2.2h4.5v1.2h-4.5z" fill="#d8ecff"/>
<path d="M113 14.4C109.800 14.4 109.600 10 112.800 9.600C113 6.600 117.400 5.800 119 8.200C120.800 6.800 124 7.800 123.800 10C126.800 10.200 126.800 14.400 123.800 14.400Z" fill="url(#cld)" stroke="#4c6cb0" stroke-width="0.9"/>
<path d="M146 6.5V14.6A8.1 8.1 0 0 0 146 -1.600Z" fill="url(#grn)" opacity="0.75"/>
<circle cx="145.9" cy="6.5" r="7.6" fill="none" stroke="#88a8e0" stroke-width="1"/>
<circle cx="145.9" cy="6.5" r="4.6" fill="none" stroke="#5a8ae0" stroke-width="1.1"/>
<circle cx="145.9" cy="6.3" r="1.7" fill="#2858c8"/>
<path d="M146.300 6.500V14.500" stroke="#28a828" stroke-width="1.3"/>
<path d="M166.2 5.500L172.9 14.800L180.2 5.500Z" fill="#f4d848" stroke="#c8a020" stroke-width="0.6"/>
<path d="M165.4 3.800c1.500-1.800 4-1.600 4.800-2.300L171-1.500h3.300l.8 3c.8.700 3.800.5 5.600 2.300c-2.500 2.700-12.800 2.700-15.300 0z" fill="#5aa8e8" stroke="#3a80c8" stroke-width="0.6"/>
<circle cx="177.4" cy="10.7" r="3.9" fill="#d82818"/>
<rect x="176.1" y="9.4" width="2.600" height="2.600" fill="#fff"/>
<text x="186.6" y="9.6" font-size="12.2" fill="#000" font-weight="500" textLength="47" lengthAdjust="spacingAndGlyphs">自动交易</text>
<rect x="241" y="0" width="1" height="19" fill="#a0a0a0" shape-rendering="crispEdges"/>
<rect x="242" y="0" width="1" height="19" fill="#ffffff" shape-rendering="crispEdges"/>
<rect x="245" y="1" width="3" height="1" fill="#a8a8a8" shape-rendering="crispEdges"/>
<rect x="245" y="2" width="3" height="1" fill="#f8f8f8" shape-rendering="crispEdges"/>
<rect x="245" y="3" width="3" height="1" fill="#a8a8a8" shape-rendering="crispEdges"/>
<rect x="245" y="4" width="3" height="1" fill="#f8f8f8" shape-rendering="crispEdges"/>
<rect x="245" y="5" width="3" height="1" fill="#a8a8a8" shape-rendering="crispEdges"/>
<rect x="245" y="6" width="3" height="1" fill="#f8f8f8" shape-rendering="crispEdges"/>
<rect x="245" y="7" width="3" height="1" fill="#a8a8a8" shape-rendering="crispEdges"/>
<rect x="245" y="8" width="3" height="1" fill="#f8f8f8" shape-rendering="crispEdges"/>
<rect x="245" y="9" width="3" height="1" fill="#a8a8a8" shape-rendering="crispEdges"/>
<rect x="245" y="10" width="3" height="1" fill="#f8f8f8" shape-rendering="crispEdges"/>
<rect x="245" y="11" width="3" height="1" fill="#a8a8a8" shape-rendering="crispEdges"/>
<rect x="245" y="12" width="3" height="1" fill="#f8f8f8" shape-rendering="crispEdges"/>
<rect x="245" y="13" width="3" height="1" fill="#a8a8a8" shape-rendering="crispEdges"/>
<rect x="245" y="14" width="3" height="1" fill="#f8f8f8" shape-rendering="crispEdges"/>
<rect x="245" y="15" width="3" height="1" fill="#a8a8a8" shape-rendering="crispEdges"/>
<rect x="245" y="16" width="3" height="1" fill="#f8f8f8" shape-rendering="crispEdges"/>
<path d="M259.4 2V15 M257.1 12.4H269.5" stroke="#505050" stroke-width="1.3" fill="none"/>
<path d="M257.7 3.4L259.4 0.7L261.1 3.4Z M268.6 10.7L271 12.4L268.6 14.100Z" fill="#505050"/>
<path d="M265.6 2.6V10.7 M263 9.4H265.6 M265.6 3.3H268" stroke="#0a8a0a" stroke-width="1.3" fill="none"/>
<rect x="279" y="0" width="1" height="17" fill="#a0a0a0" shape-rendering="crispEdges"/>
<rect x="280" y="0" width="24" height="17" fill="#f8f8f8"/>
<path d="M287.4 2V15 M285.1 12.4H297.5" stroke="#505050" stroke-width="1.3" fill="none"/>
<path d="M285.7 3.4L287.4 0.7L289.1 3.4Z M296.6 10.7L299 12.4L296.6 14.100Z" fill="#505050"/>
<path d="M293.5 -1V10.7" stroke="#0a8a0a" stroke-width="1.2"/>
<rect x="291.5" y="1.8" width="4.2" height="6.8" fill="#5cf06c" stroke="#0a8a0a" stroke-width="0.9"/>
<path d="M315.4 2V15 M313.1 12.4H325.5" stroke="#505050" stroke-width="1.3" fill="none"/>
<path d="M313.7 3.4L315.4 0.7L317.1 3.4Z M324.6 10.7L327 12.4L324.6 14.100Z" fill="#505050"/>
<path d="M314.3 9.800C316.500 8 318.500 4.200 320.300 4.300S323.500 7.200 325.400 8.100" stroke="#2a9a2a" stroke-width="1.2" fill="none"/>
<rect x="336" y="0" width="1" height="17" fill="#a0a0a0" shape-rendering="crispEdges"/>
<path d="M354.7 8.800L359.8 13.800" stroke="#9a7a08" stroke-width="3.4" stroke-linecap="butt"/>
<path d="M354.7 8.800L359.6 13.600" stroke="#ecd030" stroke-width="1.9" stroke-linecap="butt"/>
<circle cx="351" cy="4.9" r="5.5" fill="#d4f0fc" stroke="#3a84cc" stroke-width="1.1"/>
<path d="M348 4.9h6" stroke="#3c8cb8" stroke-width="1.6"/>
<path d="M351 1.9v6" stroke="#3c8cb8" stroke-width="1.6"/>
<path d="M382.59999999999997 8.800L387.7 13.800" stroke="#9a7a08" stroke-width="3.4" stroke-linecap="butt"/>
<path d="M382.59999999999997 8.800L387.5 13.600" stroke="#ecd030" stroke-width="1.9" stroke-linecap="butt"/>
<circle cx="378.9" cy="4.9" r="5.5" fill="#d4f0fc" stroke="#3a84cc" stroke-width="1.1"/>
<path d="M375.9 4.9h6" stroke="#3c8cb8" stroke-width="1.6"/>
<rect x="401.3" y="-0.8" width="7.6" height="7.4" fill="#3aa81c"/>
<rect x="402.40000000000003" y="1.5999999999999999" width="5.4" height="4" fill="#f4f8ff"/>
<rect x="403.3" y="2.8" width="3.6" height="0.9" fill="#3aa81c" opacity="0.55"/>
<rect x="409.2" y="-0.8" width="7.6" height="7.4" fill="#2a5cd8"/>
<rect x="410.3" y="1.5999999999999999" width="5.4" height="4" fill="#f4f8ff"/>
<rect x="411.2" y="2.8" width="3.6" height="0.9" fill="#2a5cd8" opacity="0.55"/>
<rect x="401.3" y="7.2" width="7.6" height="7.4" fill="#2a5cd8"/>
<rect x="402.40000000000003" y="9.6" width="5.4" height="4" fill="#f4f8ff"/>
<rect x="403.3" y="10.8" width="3.6" height="0.9" fill="#2a5cd8" opacity="0.55"/>
<rect x="409.2" y="7.2" width="7.6" height="7.4" fill="#3aa81c"/>
<rect x="410.3" y="9.6" width="5.4" height="4" fill="#f4f8ff"/>
<rect x="411.2" y="10.8" width="3.6" height="0.9" fill="#3aa81c" opacity="0.55"/>
<rect x="426" y="0" width="1" height="17" fill="#a0a0a0" shape-rendering="crispEdges"/>
<rect x="431" y="0" width="1" height="17" fill="#a0a0a0" shape-rendering="crispEdges"/>
<rect x="432" y="0" width="24" height="17" fill="#f8f8f8"/>
<path d="M439.4 2V15 M437.1 12.4H449.5" stroke="#505050" stroke-width="1.3" fill="none"/>
<path d="M437.7 3.4L439.4 0.7L441.1 3.4Z M448.6 10.7L451 12.4L448.6 14.100Z" fill="#505050"/>
<path d="M444.3 3.300V9.700L448 6.500Z" fill="#8ce08c" stroke="#18a018" stroke-width="1.1" stroke-linejoin="miter"/>
<rect x="459" y="0" width="1" height="17" fill="#a0a0a0" shape-rendering="crispEdges"/>
<rect x="460" y="0" width="25" height="17" fill="#f8f8f8"/>
<path d="M467.4 2V15 M465.1 12.4H477.5" stroke="#505050" stroke-width="1.3" fill="none"/>
<path d="M465.7 3.4L467.4 0.7L469.1 3.4Z M476.6 10.7L479 12.4L476.6 14.100Z" fill="#505050"/>
<path d="M473.5 1.300V10.700" stroke="#1870a8" stroke-width="1.3"/><path d="M479 6.500H475.500" stroke="#e05000" stroke-width="1.2"/><path d="M474.4 6.500L477 4.200V8.800Z" fill="#e05000"/>
<rect x="488" y="0" width="1" height="17" fill="#a0a0a0" shape-rendering="crispEdges"/>
<path d="M498.5 -1V12.300H509.700V3L506.500 -1Z" fill="#fff" stroke="#808080" stroke-width="1"/><path d="M504 1.500c-1.500-.3-2 .5-2 1.500v6 M500.800 4.800h2.600" stroke="#5a5038" stroke-width="0.9" fill="none"/>
<path d="M506 5h4v4h4v4h-4v4h-4v-4h-4v-4h4z" fill="#078c07" shape-rendering="crispEdges"/>
<path d="M507 6h2v4h4v2h-4v4h-2v-4h-4v-2h4z" fill="url(#plusg)" shape-rendering="crispEdges"/>
<path d="M520 5.5h5.4l-2.7 3.4z" fill="#000"/>
<circle cx="543.9" cy="7.1" r="6.9" fill="#fff" stroke="#1f6fd0" stroke-width="1.9"/><rect x="541.5" y="-1" width="5" height="1.8" fill="#1f6fd0"/>
<path d="M543.5 3V7.500H546.5" stroke="#555" stroke-width="1" fill="none"/>
<path d="M559 5.5h5.4l-2.7 3.4z" fill="#000"/>
<rect x="575.5" y="-1" width="15" height="14" fill="#fff" stroke="#3f77c8" stroke-width="1"/>
<rect x="575.5" y="-1" width="15" height="2.5" fill="#5d95e0"/>
<path d="M576 7.5h14" stroke="#3f77c8" stroke-width="0.8"/>
<path d="M577.5 5.5l3-1.5 3 .8 3-1.8 2.5 1" stroke="#c03818" stroke-width="1.1" fill="none"/>
<path d="M577.5 11.5l3-1.2 2.5.8 2.5-2 3 2" stroke="#1a9a1a" stroke-width="1.1" fill="none"/>
<path d="M598 5.5h5.4l-2.7 3.4z" fill="#000"/>
<rect x="609" y="0" width="1" height="19" fill="#a0a0a0" shape-rendering="crispEdges"/>
<rect x="610" y="0" width="1" height="19" fill="#ffffff" shape-rendering="crispEdges"/>
<rect x="613" y="1" width="3" height="1" fill="#a8a8a8" shape-rendering="crispEdges"/>
<rect x="613" y="2" width="3" height="1" fill="#f8f8f8" shape-rendering="crispEdges"/>
<rect x="613" y="3" width="3" height="1" fill="#a8a8a8" shape-rendering="crispEdges"/>
<rect x="613" y="4" width="3" height="1" fill="#f8f8f8" shape-rendering="crispEdges"/>
<rect x="613" y="5" width="3" height="1" fill="#a8a8a8" shape-rendering="crispEdges"/>
<rect x="613" y="6" width="3" height="1" fill="#f8f8f8" shape-rendering="crispEdges"/>
<rect x="613" y="7" width="3" height="1" fill="#a8a8a8" shape-rendering="crispEdges"/>
<rect x="613" y="8" width="3" height="1" fill="#f8f8f8" shape-rendering="crispEdges"/>
<rect x="613" y="9" width="3" height="1" fill="#a8a8a8" shape-rendering="crispEdges"/>
<rect x="613" y="10" width="3" height="1" fill="#f8f8f8" shape-rendering="crispEdges"/>
<rect x="613" y="11" width="3" height="1" fill="#a8a8a8" shape-rendering="crispEdges"/>
<rect x="613" y="12" width="3" height="1" fill="#f8f8f8" shape-rendering="crispEdges"/>
<rect x="613" y="13" width="3" height="1" fill="#a8a8a8" shape-rendering="crispEdges"/>
<rect x="613" y="14" width="3" height="1" fill="#f8f8f8" shape-rendering="crispEdges"/>
<rect x="613" y="15" width="3" height="1" fill="#a8a8a8" shape-rendering="crispEdges"/>
<rect x="613" y="16" width="3" height="1" fill="#f8f8f8" shape-rendering="crispEdges"/>
<rect x="619" y="0" width="1" height="17" fill="#a0a0a0" shape-rendering="crispEdges"/>
<rect x="620" y="0" width="24" height="17" fill="#f8f8f8"/>
<path d="M627 -1L627 11L629.8 8.6L632 13.5L634 12.6L631.8 7.8L635.5 7.6Z" fill="#444"/>
<path d="M659.5 0V15 M652 7.5H667" stroke="#444" stroke-width="1.1" fill="none"/>
<rect x="676" y="0" width="1" height="17" fill="#a0a0a0" shape-rendering="crispEdges"/>
<path d="M693.5 1V14" stroke="#444" stroke-width="1.2"/>
<path d="M716 7.5H728.5" stroke="#444" stroke-width="1.2"/>
<path d="M743.8 14L755.8 2" stroke="#505050" stroke-width="1.1"/>
<path d="M769.8 8.800L778.300 1 M775 14L784.100 5.200" stroke="#505050" stroke-width="1.1" fill="none"/>
<path d="M772.5 13.300V7.500 M771.500 11h1 M772.500 9h1 M775.800 10.600V5.200 M774.800 9h1 M775.800 7h1 M779 8.600V3.200 M778 7h1 M779 5h1 M782.200 5.400V0 M781.200 4h1 M782.200 2h1" stroke="#505050" stroke-width="1" fill="none"/>
<text x="780.8" y="16" font-size="7.2" font-weight="bold" fill="#3a3a3a" textLength="4.4" lengthAdjust="spacingAndGlyphs">E</text>
<path d="M799 0.65H812.5" stroke="#505050" stroke-width="1" stroke-dasharray="1 1"/>
<path d="M799 3.6H812.5" stroke="#505050" stroke-width="1" stroke-dasharray="1 1"/>
<path d="M799 7.5H812.5" stroke="#505050" stroke-width="1" stroke-dasharray="1 1"/>
<path d="M799 11.7H808" stroke="#505050" stroke-width="1" stroke-dasharray="1 1"/>
<text x="808.8" y="16" font-size="7.2" font-weight="bold" fill="#3a3a3a" textLength="4.2" lengthAdjust="spacingAndGlyphs">F</text>
<text x="829.9" y="12" font-size="13.1" fill="#4a4a4a" stroke="#4a4a4a" stroke-width="0.5" textLength="7.6" lengthAdjust="spacingAndGlyphs">A</text>
<rect x="856.5" y="1.5" width="11" height="12" fill="none" stroke="#444" stroke-width="1" stroke-dasharray="1 1"/>
<path d="M855 0h2.6v1.6H855z" fill="#333"/>
<text x="858" y="11.6" font-size="11.2" fill="#444" stroke="#444" stroke-width="0.3" textLength="8" lengthAdjust="spacingAndGlyphs">T</text>
<path d="M886.4 1.2L889.7 4.4H887.6V5.4H885.2V4.4H883.1Z" fill="#444"/>
<path d="M885.2 8.4L887.4 10.4L891.8 5.2" stroke="#444" stroke-width="1.3" fill="none"/>
<path d="M893.4 13.9L890.1 10.5H892.2V9.5H894.7V10.5H897Z" fill="#444"/>
<path d="M904 5.5h5.4l-2.7 3.4z" fill="#000"/>
<rect x="915" y="0" width="1" height="19" fill="#a0a0a0" shape-rendering="crispEdges"/>
<rect x="916" y="0" width="1" height="19" fill="#ffffff" shape-rendering="crispEdges"/>
<rect x="919" y="1" width="3" height="1" fill="#a8a8a8" shape-rendering="crispEdges"/>
<rect x="919" y="2" width="3" height="1" fill="#f8f8f8" shape-rendering="crispEdges"/>
<rect x="919" y="3" width="3" height="1" fill="#a8a8a8" shape-rendering="crispEdges"/>
<rect x="919" y="4" width="3" height="1" fill="#f8f8f8" shape-rendering="crispEdges"/>
<rect x="919" y="5" width="3" height="1" fill="#a8a8a8" shape-rendering="crispEdges"/>
<rect x="919" y="6" width="3" height="1" fill="#f8f8f8" shape-rendering="crispEdges"/>
<rect x="919" y="7" width="3" height="1" fill="#a8a8a8" shape-rendering="crispEdges"/>
<rect x="919" y="8" width="3" height="1" fill="#f8f8f8" shape-rendering="crispEdges"/>
<rect x="919" y="9" width="3" height="1" fill="#a8a8a8" shape-rendering="crispEdges"/>
<rect x="919" y="10" width="3" height="1" fill="#f8f8f8" shape-rendering="crispEdges"/>
<rect x="919" y="11" width="3" height="1" fill="#a8a8a8" shape-rendering="crispEdges"/>
<rect x="919" y="12" width="3" height="1" fill="#f8f8f8" shape-rendering="crispEdges"/>
<rect x="919" y="13" width="3" height="1" fill="#a8a8a8" shape-rendering="crispEdges"/>
<rect x="919" y="14" width="3" height="1" fill="#f8f8f8" shape-rendering="crispEdges"/>
<rect x="919" y="15" width="3" height="1" fill="#a8a8a8" shape-rendering="crispEdges"/>
<rect x="919" y="16" width="3" height="1" fill="#f8f8f8" shape-rendering="crispEdges"/>
<rect x="1065" y="0" width="1" height="17" fill="#a0a0a0" shape-rendering="crispEdges"/>
<rect x="1066" y="0" width="24" height="17" fill="#f8f8f8"/>
<text x="930.3" y="10.7" font-size="9.9" fill="#3c3c3c" stroke="#3c3c3c" stroke-width="0.2" style="text-rendering:geometricPrecision" textLength="13" lengthAdjust="spacingAndGlyphs">M1</text>
<text x="958.7" y="10.7" font-size="9.9" fill="#3c3c3c" stroke="#3c3c3c" stroke-width="0.2" style="text-rendering:geometricPrecision" textLength="12.6" lengthAdjust="spacingAndGlyphs">M5</text>
<text x="984.7" y="10.7" font-size="9.9" fill="#3c3c3c" stroke="#3c3c3c" stroke-width="0.2" style="text-rendering:geometricPrecision" textLength="17.3" lengthAdjust="spacingAndGlyphs">M15</text>
<text x="1012.5" y="10.7" font-size="9.9" fill="#3c3c3c" stroke="#3c3c3c" stroke-width="0.2" style="text-rendering:geometricPrecision" textLength="17.5" lengthAdjust="spacingAndGlyphs">M30</text>
<text x="1043.3" y="10.7" font-size="9.9" fill="#3c3c3c" stroke="#3c3c3c" stroke-width="0.2" style="text-rendering:geometricPrecision" textLength="12" lengthAdjust="spacingAndGlyphs">H1</text>
<text x="1070.3" y="10.7" font-size="9.9" fill="#3c3c3c" stroke="#3c3c3c" stroke-width="0.2" style="text-rendering:geometricPrecision" textLength="12.2" lengthAdjust="spacingAndGlyphs">H4</text>
<text x="1099" y="10.7" font-size="9.9" fill="#3c3c3c" stroke="#3c3c3c" stroke-width="0.2" style="text-rendering:geometricPrecision" textLength="12.3" lengthAdjust="spacingAndGlyphs">D1</text>
<text x="1127" y="10.7" font-size="9.9" fill="#3c3c3c" stroke="#3c3c3c" stroke-width="0.2" style="text-rendering:geometricPrecision" textLength="14.3" lengthAdjust="spacingAndGlyphs">W1</text>
<text x="1153.7" y="10.7" font-size="9.9" fill="#3c3c3c" stroke="#3c3c3c" stroke-width="0.2" style="text-rendering:geometricPrecision" textLength="14.6" lengthAdjust="spacingAndGlyphs">MN</text>
<rect x="1176" y="0" width="1" height="19" fill="#a0a0a0" shape-rendering="crispEdges"/>
<path d="M1643.4 7.600L1639.2 11.800" stroke="#2a62d8" stroke-width="2.3" stroke-linecap="round"/>
<circle cx="1646.6" cy="4.55" r="3.850" fill="#f6f8ff" stroke="#2460d8" stroke-width="1.25"/>
<path d="M1663.200 8.800c0-2.800 2.400-4.600 5.400-4.600s5.400 1.800 5.400 4.600s-2.400 4.500-5.400 4.500h-1.300l-2.300 2.400l.3-2.900c-1.300-.8-2.100-2.100-2.100-4z" fill="#e2e2ee" stroke="#a4a4a8" stroke-width="0.8"/>
<defs><linearGradient id="badge" x1="0" y1="0" x2="0" y2="1"><stop offset="0" stop-color="#ea5634"/><stop offset="1" stop-color="#d81c0c"/></linearGradient></defs>
<circle cx="1677.4" cy="3.7" r="8.4" fill="url(#badge)"/>
<text x="1673.600" y="9" font-size="12.500" font-weight="bold" fill="#fff" style="font-family:'Liberation Serif',serif">1</text>
</g>
</g></svg>
</body></html>
